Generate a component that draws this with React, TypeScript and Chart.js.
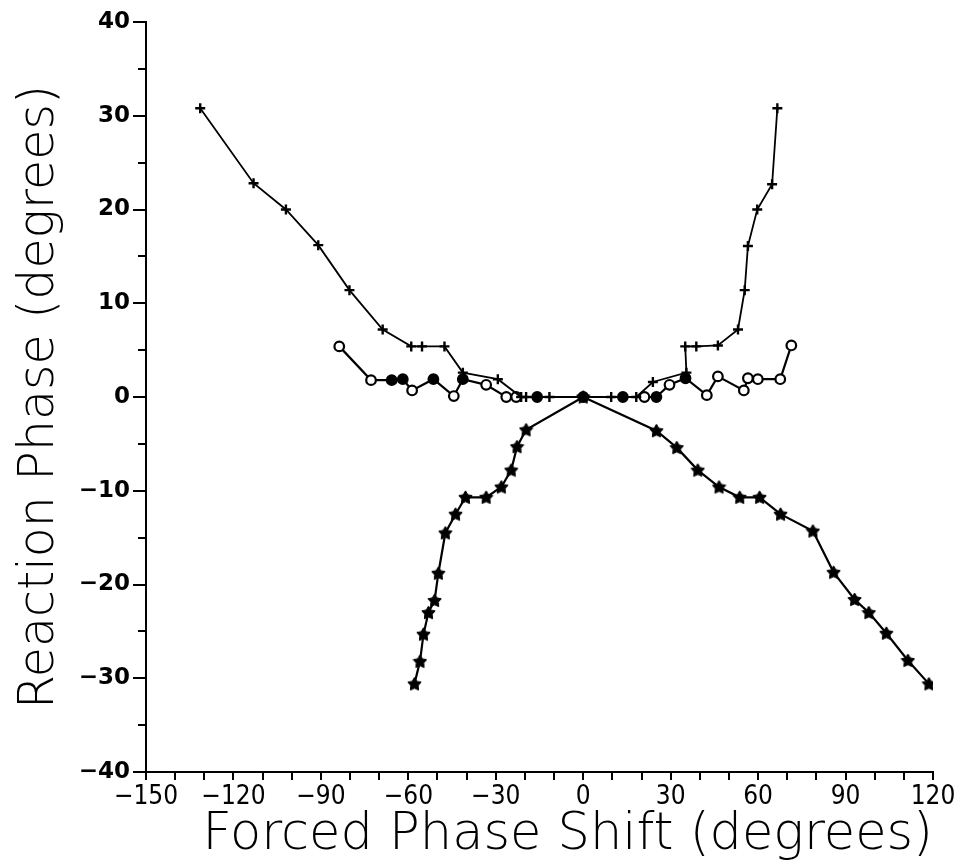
import React, { useEffect, useRef } from "react";
import { Chart, registerables } from "chart.js";
Chart.register(...registerables);

// Plus-marker series
const plusX = [-131.4, -113.1, -102.0, -90.9, -80.2, -68.8, -59.0, -55.3, -47.6, -41.3, -29.3, -21.3, -19.6, -11.6, 0, 9.6, 18.2, 23.9, 35.4, 35.0, 38.8, 46.2, 53.1, 55.4, 56.5, 59.7, 64.8, 66.6];
const plusY = [30.8, 22.8, 20.0, 16.2, 11.4, 7.2, 5.4, 5.4, 5.4, 2.6, 1.9, 0, 0, 0, 0, 0, 0, 1.6, 2.6, 5.4, 5.4, 5.5, 7.2, 11.4, 16.1, 20.0, 22.7, 30.8];

// Circle-marker series
const circX = [-83.7, -72.8, -65.7, -61.9, -58.7, -51.4, -44.4, -41.3, -33.3, -26.4, -23.0, -15.8, 0, 13.6, 21.0, 25.1, 29.6, 35.1, 42.4, 46.2, 55.1, 56.5, 59.9, 67.6, 71.4];
const circY = [5.4, 1.8, 1.8, 1.9, 0.7, 1.9, 0.1, 1.9, 1.3, 0, 0, 0, 0, 0, 0, 0, 1.3, 2.0, 0.2, 2.2, 0.7, 2.0, 1.9, 1.9, 5.5];
const circFilled = [0, 0, 1, 1, 0, 1, 0, 1, 0, 0, 0, 1, 1, 1, 0, 1, 0, 1, 0, 0, 0, 0, 0, 0, 0];

// Star-marker series
const starX = [-57.9, -56.0, -54.8, -53.1, -51.0, -49.7, -47.3, -43.8, -40.4, -33.3, -28.1, -24.7, -22.7, -19.6, 0, 25.1, 32.1, 39.3, 46.6, 53.7, 60.5, 67.7, 78.8, 85.9, 93.1, 98.0, 104.0, 111.4, 118.6];
const starY = [-30.6, -28.2, -25.3, -23.0, -21.7, -18.8, -14.5, -12.5, -10.7, -10.7, -9.6, -7.8, -5.3, -3.5, 0, -3.6, -5.4, -7.8, -9.6, -10.7, -10.7, -12.5, -14.3, -18.7, -21.6, -23.0, -25.2, -28.1, -30.6];

// Axis ticks
const xLabelTicks = [-150, -120, -90, -60, -30, 0, 30, 60, 90, 120];
const yLabelTicks = [-40, -30, -20, -10, 0, 10, 20, 30, 40];
const yMinorTicks = [-35, -25, -15, -5, 5, 15, 25, 35];

const fmt = (v: number) => (v < 0 ? "\u2212" + Math.abs(v) : String(v));

function makeStar(size: number): HTMLCanvasElement {
  const c = document.createElement("canvas");
  c.width = size;
  c.height = size;
  const ctx = c.getContext("2d")!;
  const cx = size / 2, cy = size / 2 + 0.5;
  const R = size / 2 - 0.5, r = R * 0.55;
  ctx.beginPath();
  for (let i = 0; i < 10; i++) {
    const ang = -Math.PI / 2 + (i * Math.PI) / 5;
    const rad = i % 2 === 0 ? R : r;
    const px = cx + rad * Math.cos(ang);
    const py = cy + rad * Math.sin(ang);
    if (i === 0) ctx.moveTo(px, py);
    else ctx.lineTo(px, py);
  }
  ctx.closePath();
  ctx.fillStyle = "#000";
  ctx.fill();
  ctx.strokeStyle = "#000";
  ctx.lineWidth = 1;
  ctx.stroke();
  return c;
}

const minorTickPlugin = {
  id: "minorTicks",
  afterDraw(chart: any) {
    const y = chart.scales.y;
    const ctx = chart.ctx;
    const left = chart.chartArea.left;
    ctx.save();
    ctx.strokeStyle = "#000";
    ctx.lineWidth = 2;
    yMinorTicks.forEach((v) => {
      const py = Math.round(y.getPixelForValue(v));
      ctx.beginPath();
      ctx.moveTo(left, py);
      ctx.lineTo(left - 8, py);
      ctx.stroke();
    });
    ctx.restore();
  },
};

export default function App() {
  const ref = useRef<HTMLCanvasElement | null>(null);

  useEffect(() => {
    if (!ref.current) return;
    const star = makeStar(15);
    const chart = new Chart(ref.current, {
      type: "scatter",
      data: {
        datasets: [
          {
            label: "plus",
            data: plusX.map((x, i) => ({ x, y: plusY[i] })),
            showLine: true,
            borderColor: "#000",
            borderWidth: 1.8,
            pointStyle: "cross",
            pointRadius: 5,
            pointBorderWidth: 2.4,
            pointBorderColor: "#000",
            tension: 0,
          },
          {
            label: "circle",
            data: circX.map((x, i) => ({ x, y: circY[i] })),
            showLine: true,
            borderColor: "#000",
            borderWidth: 2.2,
            pointStyle: "circle",
            pointRadius: 4.8,
            pointBorderWidth: 2.2,
            pointBorderColor: "#000",
            pointBackgroundColor: circFilled.map((f) => (f ? "#000" : "#fff")),
            tension: 0,
          },
          {
            label: "star",
            data: starX.map((x, i) => ({ x, y: starY[i] })),
            showLine: true,
            borderColor: "#000",
            borderWidth: 2.2,
            pointStyle: star as any,
            pointRadius: 7,
            tension: 0,
          },
        ],
      },
      options: {
        animation: false,
        responsive: false,
        devicePixelRatio: 1,
        layout: { padding: { top: 22, right: 29, left: 0, bottom: 0 } },
        plugins: { legend: { display: false }, tooltip: { enabled: false } },
        scales: {
          x: {
            type: "linear",
            min: -150,
            max: 120,
            afterFit: (s: any) => {
              s.height = 93;
            },
            afterBuildTicks: (s: any) => {
              const t = [];
              for (let v = -150; v <= 120; v += 10) t.push({ value: v });
              s.ticks = t;
            },
            border: { display: true, color: "#000", width: 2 },
            grid: { drawOnChartArea: false, drawTicks: true, tickLength: 8, color: "#000", lineWidth: 2 },
            ticks: {
              autoSkip: false,
              maxRotation: 0,
              padding: 2,
              color: "#000",
              font: { family: "'DejaVu Sans Condensed', 'DejaVu Sans', sans-serif", size: 26 },
              callback: (v: any) => (xLabelTicks.includes(Number(v)) ? fmt(Number(v)) : ""),
            },
            title: {
              display: true,
              text: "Forced Phase Shift (degrees)",
              align: "end",
              color: "#000",
              font: { family: "'DejaVu Sans', sans-serif", size: 51, weight: "200" as any, lineHeight: 1.15 },
              padding: { top: 0, bottom: 0 },
            },
          },
          y: {
            type: "linear",
            min: -40,
            max: 40,
            afterFit: (s: any) => {
              s.width = 146;
            },
            afterBuildTicks: (s: any) => {
              s.ticks = yLabelTicks.map((v) => ({ value: v }));
            },
            border: { display: true, color: "#000", width: 2 },
            grid: { drawOnChartArea: false, drawTicks: true, tickLength: 13, color: "#000", lineWidth: 2 },
            ticks: {
              autoSkip: false,
              padding: 3,
              color: "#000",
              font: { family: "'DejaVu Sans', sans-serif", size: 23, weight: "bold" as any },
              callback: (v: any) => fmt(Number(v)),
            },
            title: {
              display: true,
              text: "Reaction Phase (degrees)",
              color: "#000",
              font: { family: "'DejaVu Sans', sans-serif", size: 49, weight: "200" as any, lineHeight: 1.2 },
              padding: { top: 11, bottom: 0 },
            },
          },
        },
      },
      plugins: [minorTickPlugin],
    });
    return () => chart.destroy();
  }, []);

  return (
    <div style={{ position: "absolute", left: 0, top: 0, width: 962, height: 865, background: "#fff" }}>
      <canvas ref={ref} width={962} height={865} style={{ display: "block" }} />
    </div>
  );
}
